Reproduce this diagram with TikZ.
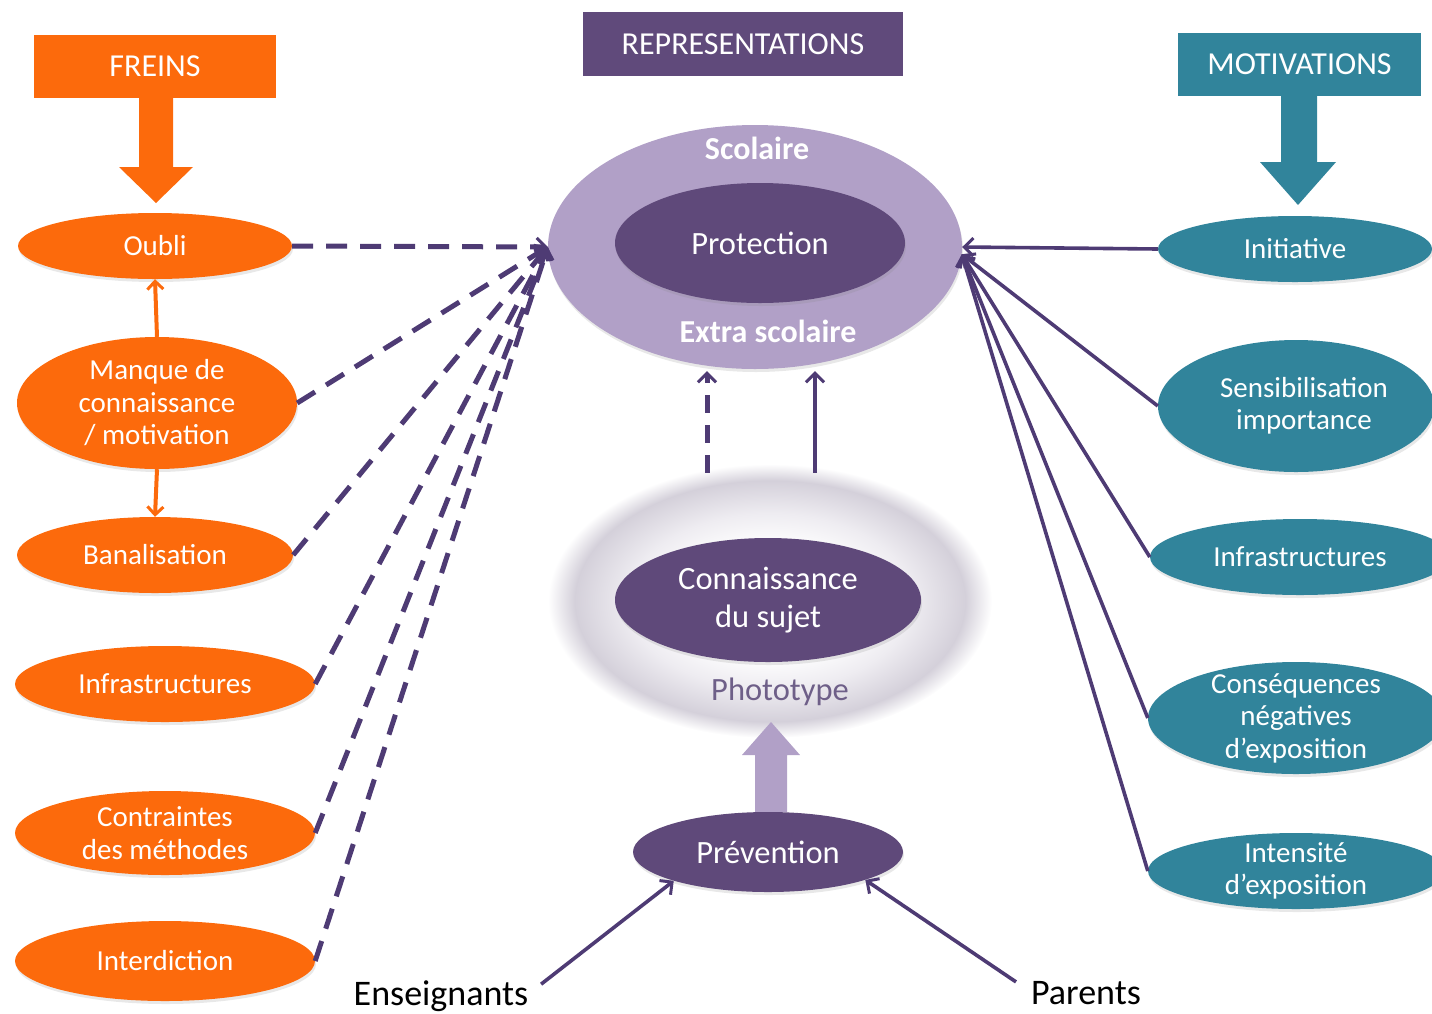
\documentclass[tikz,border=0pt]{standalone}
\usepackage{fontspec}
\setmainfont{Carlito}
\usetikzlibrary{shapes.geometric,arrows.meta,shadows}
\definecolor{orng}{HTML}{FC6A0C}
\definecolor{teal1}{HTML}{31849B}
\definecolor{pdark}{HTML}{5F497A}
\definecolor{pbox}{HTML}{604A7B}
\definecolor{plight}{HTML}{B1A0C7}
\definecolor{pline}{HTML}{4E3B74}
\definecolor{pgray}{HTML}{D4D0DA}
\definecolor{pgray2}{HTML}{EEECF1}
\definecolor{ptext}{HTML}{6E5F88}
\pgfdeclareradialshading{softedge}{\pgfpoint{0bp}{0bp}}{color(0bp)=(white); color(10bp)=(white); color(16bp)=(pgray2); color(22bp)=(pgray); color(25bp)=(white); color(50bp)=(white)}
\newcommand\fsz[2]{\fontsize{#1}{#2}\selectfont}
\begin{document}
\begin{tikzpicture}[x=1pt,y=-1pt,
  ov/.style={ellipse, inner sep=0pt, draw=none},
  shd/.style={drop shadow={opacity=0.18, shadow xshift=1pt, shadow yshift=-3pt}},
  orov/.style={ov, shd, fill=orng},
  tlov/.style={ov, shd, fill=teal1},
  pdov/.style={ov, shd, fill=pdark},
  txt/.style={align=center, text=white, inner sep=0pt, font=\fsz{29}{32.5}},
  btxt/.style={align=center, text=white, inner sep=0pt, font=\fsz{32.5}{38}},
  hdr/.style={minimum width=#1, minimum height=63pt, inner sep=0pt, text=white, font=\fsz{32}{36}},
  dl/.style={pline, line width=5pt, dash pattern=on 21pt off 13pt, -{Straight Barb[length=9pt,width=18pt,line width=3pt]}},
  sl/.style={pline, line width=3.6pt, -{Straight Barb[length=9pt,width=18pt,line width=3pt]}},
  ol/.style={orng, line width=4pt, -{Straight Barb[length=8pt,width=16pt,line width=3pt]}}
]
\useasboundingbox (0,0) rectangle (1432,1013);

% headers and block arrows
\node[hdr=242pt, fill=orng] (freins) at (155,66.5) {FREINS};
\node[hdr=320pt, fill=pbox, minimum height=64pt] (repr) at (743,44) {REPRESENTATIONS};
\node[hdr=243pt, fill=teal1] (motiv) at (1299.5,64.5) {MOTIVATIONS};
\fill[orng] (139,97) -- (173,97) -- (173,167) -- (193,167) -- (156,203) -- (119,167) -- (139,167) -- cycle;
\fill[teal1] (1281,95) -- (1317,95) -- (1317,162) -- (1336,162) -- (1298,205) -- (1260,162) -- (1281,162) -- cycle;

% left: freins
\node[orov, minimum width=274pt, minimum height=66pt] (oubli) at (155,246) {};
\node[txt] (oubli-t) at (oubli) {Oubli};
\node[orov, minimum width=280pt, minimum height=132pt] (manque) at (157,403) {};
\node[txt] (manque-t) at (manque) {Manque de\\connaissance\\/ motivation};
\node[orov, minimum width=276pt, minimum height=76pt] (banal) at (155,555) {};
\node[txt] (banal-t) at (banal) {Banalisation};
\node[orov, minimum width=300pt, minimum height=76pt] (infl) at (165,684) {};
\node[txt] (infl-t) at (infl) {Infrastructures};
\node[orov, minimum width=300pt, minimum height=84pt] (contr) at (165,833) {};
\node[txt] (contr-t) at (contr) {Contraintes\\des méthodes};
\node[orov, minimum width=300pt, minimum height=80pt] (interd) at (165,961) {};
\node[txt] (interd-t) at (interd) {Interdiction};

% right: motivations
\node[tlov, minimum width=274pt, minimum height=66pt] (init) at (1295,249) {};
\node[txt] (init-t) at (init) {Initiative};
\node[tlov, minimum width=276pt, minimum height=132pt] (sens) at (1296,406) {};
\node[txt] (sens-t) at ([xshift=8pt]sens) {Sensibilisation\\importance};
\node[tlov, minimum width=300pt, minimum height=76pt] (infr) at (1300,557) {};
\node[txt] (infr-t) at (infr) {Infrastructures};
\node[tlov, minimum width=296pt, minimum height=112pt] (cons) at (1296,718) {};
\node[txt] (cons-t) at (cons) {Conséquences\\négatives\\d’exposition};
\node[tlov, minimum width=296pt, minimum height=76pt] (inten) at (1296,871) {};
\node[txt] (inten-t) at (inten) {Intensité\\d’exposition};

% centre: representations
\node[ov, shd, fill=plight, minimum width=414pt, minimum height=244pt] (scol) at (755,247) {};
\node[pdov, minimum width=290pt, minimum height=120pt] (prot) at (760,243) {};
\node[btxt] (prot-t) at (prot) {Protection};
\node[btxt, font=\bfseries\fsz{32}{36}] (scol-t) at (757,148) {Scolaire};
\node[btxt, font=\bfseries\fsz{32}{36}] (extra-t) at (768,331) {Extra scolaire};

% phototype
\node[ov, shade, shading=softedge, minimum width=444pt, minimum height=274pt] (photo) at (770,601) {};
\node[pdov, minimum width=306pt, minimum height=124pt] (conn) at (768,600) {};
\node[btxt] (conn-t) at (conn) {Connaissance\\du sujet};
\node[text=ptext, inner sep=0pt, font=\fsz{32.5}{38}] (photo-t) at (780,692) {Phototype};

% prevention
\fill[plight] (755,812) -- (787,812) -- (787,755) -- (800,755) -- (771,722) -- (742,755) -- (755,755) -- cycle;
\node[pdov, minimum width=270pt, minimum height=80pt] (prev) at (768,852) {};
\node[btxt] (prev-t) at (prev) {Prévention};

\node[inner sep=0pt, font=\fsz{36}{40}] (ens) at (441,996) {Enseignants};
\node[inner sep=0pt, font=\fsz{36}{40}] (par) at (1086,993) {Parents};

% connectors
\foreach \n in {oubli,manque,banal,infl,contr,interd}
  \draw[dl] (\n.east) -- (scol.west);
\draw[sl] (init.west) -- (scol.east);
\foreach \n in {sens,infr,cons,inten}
  \draw[sl] (\n.west) -- (scol.-2);
\draw[ol] (manque.north) -- (oubli.south);
\draw[ol] (manque.south) -- (banal.north);
\draw[dl, dash pattern=on 18pt off 12pt] ([xshift=-63pt,yshift=-9pt]photo.north) -- ([xshift=-48pt,yshift=-2pt]scol.south);
\draw[sl] ([xshift=45pt,yshift=-9pt]photo.north) -- ([xshift=60pt,yshift=-2pt]scol.south);
\draw[sl, shorten <=16pt] ([yshift=2pt]ens.east) -- (prev.197);
\draw[sl, shorten <=18pt] ([yshift=1pt]par.west) -- (prev.344);
\end{tikzpicture}
\end{document}
